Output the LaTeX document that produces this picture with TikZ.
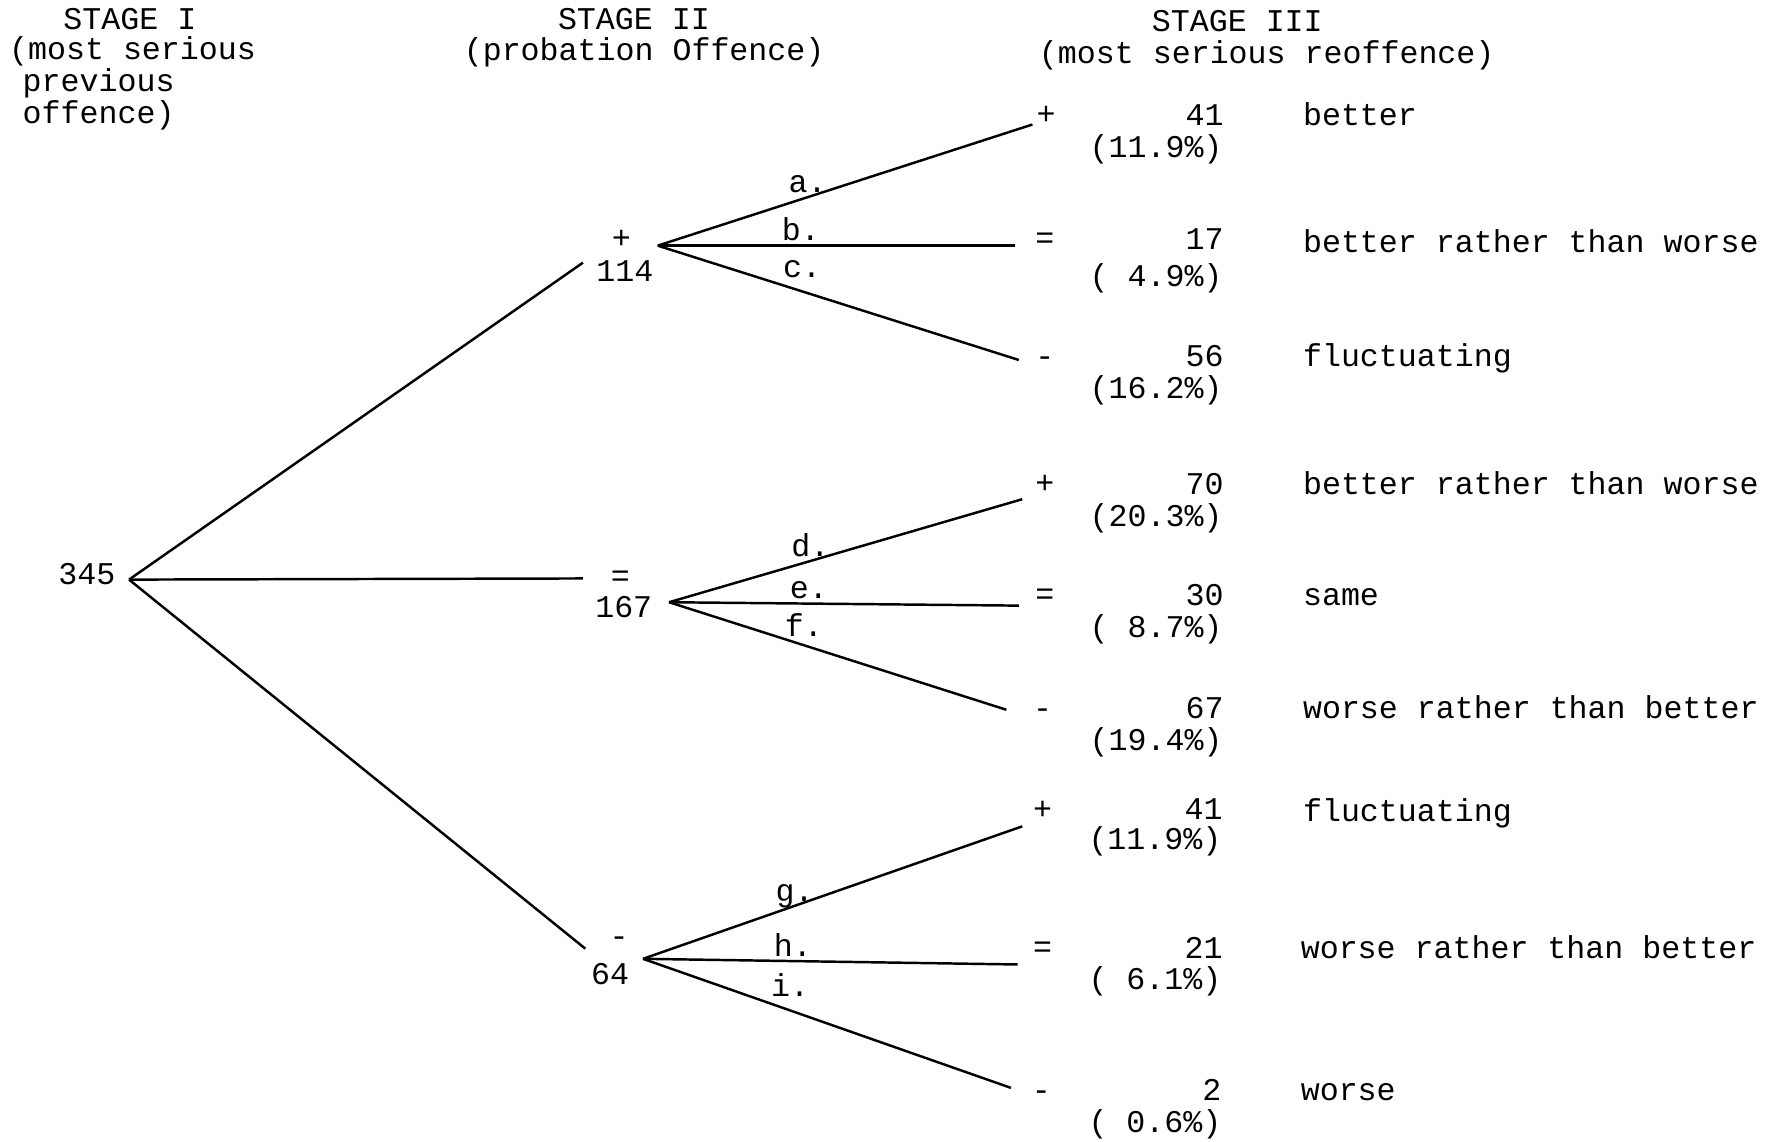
\documentclass[tikz,border=0pt]{standalone}
\usepackage{fontspec}
\setmainfont{Liberation Mono}
\usetikzlibrary{positioning}

\tikzset{
  txt/.style={inner sep=0pt, text height=5pt, text depth=0pt, font=\fontsize{9}{10}\selectfont},
  cnt/.style={txt, anchor=east},
  desc/.style={txt, anchor=west},
  lbl/.style={txt, pos=0.4, above=1pt},
  lbldown/.style={lbl, above=3.5pt}
}

\begin{document}
\begin{tikzpicture}[x=0.01132cm, y=-0.01132cm, line width=0.7pt]

\useasboundingbox (0,0) rectangle (1568,1008);

% headings
\node[desc] (h1)  at (55,18)   {STAGE I};
\node[desc] (h1b) at (7,45)    {(most serious};
\node[desc] (h1c) at (19,73)   {previous};
\node[desc] (h1d) at (19,101)  {offence)};
\node[txt]  (h2)  at (560,18)  {STAGE II};
\node[txt]  (h2b) at (569,46)  {(probation Offence)};
\node[txt]  (h3)  at (1093,20) {STAGE III};
\node[txt]  (h3b) at (1119,48) {(most serious reoffence)};

% stage I and stage II
\node[cnt] (n345) at (103,509) {345};
\node[txt] (s114) at (549,212) {+};
\node[txt] (n114) at (552,241) {114};
\node[txt] (s167) at (548,510) {=};
\node[txt] (n167) at (551,538) {167};
\node[txt] (s64)  at (547,828) {-};
\node[txt] (n64)  at (539,862) {64};

% stage III
\node[txt]  (o1) at (924,102)  {+};
\node[cnt]  (c1) at (1082,103) {41};
\node[cnt]  (r1) at (1081,131) {(11.9\%)};
\node[desc] (d1) at (1150,103) {better};

\node[txt]  (o2) at (923,212)  {=};
\node[cnt]  (c2) at (1082,213) {17};
\node[cnt]  (r2) at (1081,245) {( 4.9\%)};
\node[desc] (d2) at (1150,215) {better rather than worse};

\node[txt]  (o3) at (923,316)  {-};
\node[cnt]  (c3) at (1082,316) {56};
\node[cnt]  (r3) at (1081,344) {(16.2\%)};
\node[desc] (d3) at (1150,316) {fluctuating};

\node[txt]  (o4) at (923,428)  {+};
\node[cnt]  (c4) at (1082,429) {70};
\node[cnt]  (r4) at (1081,457) {(20.3\%)};
\node[desc] (d4) at (1150,429) {better rather than worse};

\node[txt]  (o5) at (923,526)  {=};
\node[cnt]  (c5) at (1082,527) {30};
\node[cnt]  (r5) at (1081,555) {( 8.7\%)};
\node[desc] (d5) at (1150,527) {same};

\node[txt]  (o6) at (921,627)  {-};
\node[cnt]  (c6) at (1082,627) {67};
\node[cnt]  (r6) at (1081,655) {(19.4\%)};
\node[desc] (d6) at (1150,627) {worse rather than better};

\node[txt]  (o7) at (921,716)  {+};
\node[cnt]  (c7) at (1081,716) {41};
\node[cnt]  (r7) at (1080,743) {(11.9\%)};
\node[desc] (d7) at (1150,718) {fluctuating};

\node[txt]  (o8) at (921,838)  {=};
\node[cnt]  (c8) at (1081,839) {21};
\node[cnt]  (r8) at (1080,866) {( 6.1\%)};
\node[desc] (d8) at (1148,839) {worse rather than better};

\node[txt]  (o9) at (920,964)  {-};
\node[cnt]  (c9) at (1080,964) {2};
\node[cnt]  (r9) at (1080,993) {( 0.6\%)};
\node[desc] (d9) at (1148,964) {worse};

% line ends
\coordinate (root)   at (114,512);
\coordinate (in114)  at (515,232);
\coordinate (in167)  at (515,511);
\coordinate (in64)   at (517,838);
\coordinate (out114) at (581,217);
\coordinate (out167) at (591,532);
\coordinate (out64)  at (568,847);
\coordinate (t1) at (912,110);
\coordinate (t2) at (897,217);
\coordinate (t3) at (900,318);
\coordinate (t4) at (903,441);
\coordinate (t5) at (900,535);
\coordinate (t6) at (889,627);
\coordinate (t7) at (903,730);
\coordinate (t8) at (899,852);
\coordinate (t9) at (893,961);

\path (root) edge (in114)
             edge (in167)
             edge (in64)
      (out114) edge node[lbl] {a.} (t1)
               edge node[lbl] {b.} (t2)
               edge node[lbldown] {c.} (t3)
      (out167) edge node[lbl] {d.} (t4)
               edge node[lbl] {e.} (t5)
               edge node[lbl, above=2pt] {f.} (t6)
      (out64)  edge node[lbl] {g.} (t7)
               edge node[lbl] {h.} (t8)
               edge node[lbldown] {i.} (t9);

\end{tikzpicture}
\end{document}
